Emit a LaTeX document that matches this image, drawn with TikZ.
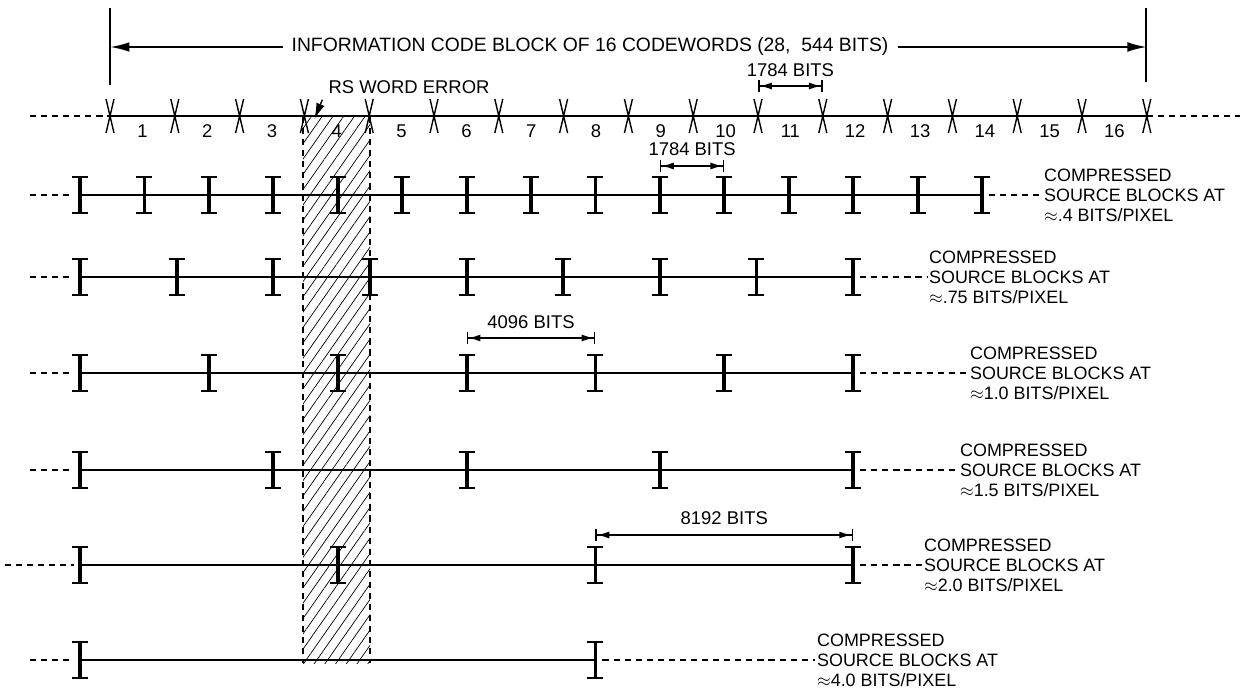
\documentclass[tikz,border=0pt]{standalone}
\usepackage{fontspec}
\setmainfont{Liberation Sans}
\usetikzlibrary{arrows.meta,patterns.meta,calc}

\tikzset{
  ibar/.pic={\draw[line width=2.2pt] (0,-18)--(0,18);
    \draw[line width=1.3pt] (-8,-18)--(8,-18) (-8,18)--(8,18);},
  xmark/.pic={\draw[line width=0.8pt] (-4,-17)--(0,0)--(-4,17) (4,-17)--(0,0)--(4,17);},
  dashline/.style={dash pattern=on 3.5pt off 2.8pt,line width=0.8pt},
  dimline/.style={line width=0.9pt,{Bar[width=7pt]Latex[length=7pt,width=4pt]}-{Latex[length=7pt,width=4pt]Bar[width=7pt]}},
  titlearrow/.style={line width=1.1pt,-{Latex[length=11pt,width=5.5pt]}},
  ratelabel/.style={anchor=west,align=left,font=\fontsize{10.2}{11.4}\selectfont,inner sep=1pt},
}

\begin{document}
\begin{tikzpicture}[x=0.02cm,y=-0.02cm,line join=round,font=\fontsize{10.5}{12}\selectfont]
\useasboundingbox (0,0) rectangle (1256,699);

% error region
\fill[pattern={Lines[angle=55,distance=5pt,line width=0.4pt]}] (303,117) rectangle (370,663);
\draw[dashline,line width=0.6pt] (303,117)--(303,663) (370,117)--(370,663);

% codewords
\foreach \i in {0,...,16} \coordinate (cw-\i) at ({110+64.8*\i},116);
\coordinate (cw-l) at (30,116);
\coordinate (cw-r) at (1240,116);
\draw[line width=0.9pt] (cw-0) -- (cw-16);
\draw[dashline] (cw-l) -- (cw-0) (cw-16) -- (cw-r);
\foreach \i in {0,...,16} \pic at (cw-\i) {xmark};
\foreach \i in {1,...,16} \node (num-\i) at ({110+64.8*(\i-0.5)},131) {\i};

% code block
\node[font=\fontsize{11}{12}\selectfont,inner sep=5pt] (title) at (590,47) {INFORMATION CODE BLOCK OF 16 CODEWORDS (28,\ \ 544 BITS)};
\draw[line width=0.9pt] (110,8) -- (110,85) (1146,8) -- (1146,82);
\draw[titlearrow] (title.west) -- (title.west -| cw-0);
\draw[titlearrow] (title.east) -- (title.east -| cw-16);

\draw[dimline] ($(cw-10)+(0,-30)$) -- ($(cw-11)+(0,-30)$);
\node (cwlen) at ($(cw-10)!0.5!(cw-11)+(0,-46)$) {1784 BITS};

\node (rserr) at (409,87) {RS WORD ERROR};
\draw[line width=0.8pt,-{Latex[length=9pt,width=5pt]}] (rserr.south west) -- ($(cw-3)+(10,3)$);

% source blocks
\foreach \r/\y/\d/\n/\ls/\lx/\rate in {1/195/64.43/14/30/1042/.4, 2/277/96.64/8/30/927/.75,
    3/373/128.86/6/30/968/1.0, 4/470/193.29/4/30/958/1.5, 5/565/257.72/3/5/922/2.0, 6/660/515.43/1/30/815/4.0}{
  \foreach \k in {0,...,\n} \coordinate (r\r-\k) at ({80+\d*\k},\y);
  \coordinate (r\r-l) at (\ls,\y);
  \draw[line width=0.9pt] (r\r-0) -- (r\r-\n);
  \foreach \k in {0,...,\n} \pic at (r\r-\k) {ibar};
  \node[ratelabel] (rate-\r) at (\lx,\y) {COMPRESSED\\SOURCE BLOCKS AT\\$\approx$\rate\ BITS/PIXEL};
  \draw[dashline] (r\r-l) -- ($(r\r-0)+(-6,0)$);
  \draw[dashline] ($(r\r-\n)+(7,0)$) -- (rate-\r.west);
}

\draw[dimline] ($(r1-9)+(0,-29)$) -- ($(r1-10)+(0,-29)$);
\node (len1) at ($(r1-9)!0.5!(r1-10)+(0,-46)$) {1784 BITS};
\draw[dimline] ($(r3-3)+(0,-35)$) -- ($(r3-4)+(0,-35)$);
\node (len3) at ($(r3-3)!0.5!(r3-4)+(0,-51)$) {4096 BITS};
\draw[dimline] ($(r5-2)+(0,-30)$) -- ($(r5-3)+(0,-30)$);
\node (len5) at ($(r5-2)!0.5!(r5-3)+(0,-47)$) {8192 BITS};

\end{tikzpicture}
\end{document}
